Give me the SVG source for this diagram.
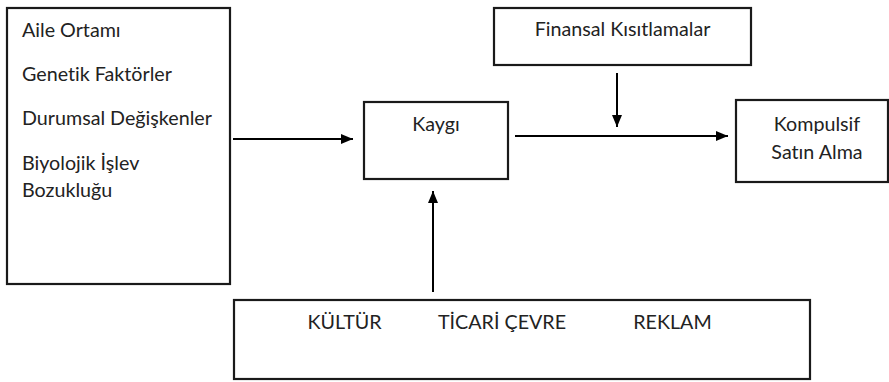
<svg xmlns="http://www.w3.org/2000/svg" width="889" height="382" viewBox="0 0 889 382">
<style>
.box{fill:#fff;stroke:#1a1a1a;stroke-width:2.2}
.t{font-family:Lato,"Liberation Sans",sans-serif;font-size:19.7px;fill:#222;font-variant-ligatures:none}
.c{text-anchor:middle}
.ln{stroke:#000;stroke-width:2;fill:none}
</style>
<defs>
<marker id="ah" viewBox="0 0 12 10" refX="12" refY="5" markerWidth="12" markerHeight="10" markerUnits="userSpaceOnUse" orient="auto">
<path d="M0,0 L12,5 L0,10 Z" fill="#000"/>
</marker>
</defs>
<rect width="889" height="382" fill="#fff"/>
<g id="factors">
<rect class="box" x="7" y="8" width="223" height="276"/>
<text class="t" x="22" y="37">Aile Ortamı</text>
<text class="t" x="22" y="81">Genetik Faktörler</text>
<text class="t" x="22" y="125">Durumsal Değişkenler</text>
<text class="t" x="22" y="170">Biyolojik İşlev</text>
<text class="t" x="22" y="197">Bozukluğu</text>
</g>
<g id="finansal">
<rect class="box" x="494" y="8" width="257" height="57"/>
<text class="t c" x="622.5" y="36">Finansal Kısıtlamalar</text>
</g>
<g id="kaygi">
<rect class="box" x="364" y="102" width="144" height="77"/>
<text class="t c" x="436" y="131">Kaygı</text>
</g>
<g id="kompulsif">
<rect class="box" x="736" y="100" width="152" height="82"/>
<text class="t c" x="817" y="131">Kompulsif</text>
<text class="t c" x="817" y="159">Satın Alma</text>
</g>
<g id="environment">
<rect class="box" x="234" y="300" width="576" height="79"/>
<text class="t c" x="344.5" y="329">KÜLTÜR</text>
<text class="t c" x="502" y="329">TİCARİ ÇEVRE</text>
<text class="t c" x="672.5" y="329">REKLAM</text>
</g>
<g id="connectors">
<line class="ln" x1="233" y1="139" x2="353" y2="139" marker-end="url(#ah)"/>
<line class="ln" x1="515" y1="136" x2="728" y2="136" marker-end="url(#ah)"/>
<line class="ln" x1="617" y1="73" x2="617" y2="127" marker-end="url(#ah)"/>
<line class="ln" x1="433" y1="292" x2="433" y2="191" marker-end="url(#ah)"/>
</g>
</svg>
